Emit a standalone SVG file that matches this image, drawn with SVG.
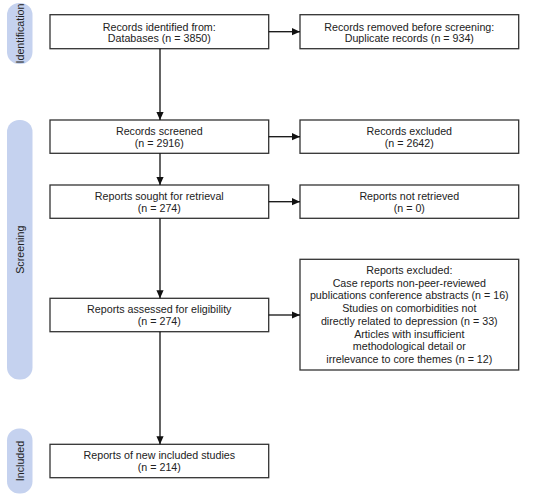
<svg xmlns="http://www.w3.org/2000/svg" width="550" height="499" viewBox="0 0 550 499">
<defs>
<style>
.box{fill:#fff;stroke:#333;stroke-width:1.3}
.pill{fill:#c5d2ef}
text{font-family:"Liberation Sans",Arial,sans-serif;font-size:10.7px;fill:#222;text-anchor:middle}
.conn line{stroke:#111;stroke-width:1.3;fill:none}
</style>
<marker id="ah" viewBox="0 0 10 10" refX="10" refY="5" markerWidth="8" markerHeight="8" markerUnits="userSpaceOnUse" orient="auto">
<path d="M0,0.5 L10,5 L0,9.5 z" fill="#111"/>
</marker>
</defs>
<rect width="550" height="499" fill="#fff"/>
<g id="phase-identification">
<rect class="pill" x="7" y="3" width="25.5" height="61" rx="12"/>
<text transform="translate(23.5,33.5) rotate(-90)">Identification</text>
</g>
<g id="phase-screening">
<rect class="pill" x="7" y="120" width="25.5" height="259.5" rx="12"/>
<text transform="translate(23.5,249.7) rotate(-90)">Screening</text>
</g>
<g id="phase-included">
<rect class="pill" x="7" y="428.5" width="25.5" height="65" rx="12"/>
<text transform="translate(23.5,461) rotate(-90)">Included</text>
</g>
<g id="n-identified">
<rect class="box" x="50" y="14.7" width="218.7" height="34"/>
<text x="159.3" y="30.5">Records identified from:</text>
<text x="159.3" y="42.2">Databases (n = 3850)</text>
</g>
<g id="n-removed">
<rect class="box" x="300" y="14.7" width="218.7" height="34"/>
<text x="409.3" y="30.5">Records removed before screening:</text>
<text x="409.3" y="42.2">Duplicate records (n = 934)</text>
</g>
<g id="n-screened">
<rect class="box" x="50" y="120" width="218.7" height="33.3"/>
<text x="159.3" y="134.7">Records screened</text>
<text x="159.3" y="147">(n = 2916)</text>
</g>
<g id="n-excluded">
<rect class="box" x="300" y="120" width="218.7" height="33.3"/>
<text x="409.3" y="134.7">Records excluded</text>
<text x="409.3" y="147">(n = 2642)</text>
</g>
<g id="n-sought">
<rect class="box" x="50" y="185" width="218.7" height="33.3"/>
<text x="159.3" y="199.7">Reports sought for retrieval</text>
<text x="159.3" y="212">(n = 274)</text>
</g>
<g id="n-notretrieved">
<rect class="box" x="300" y="185" width="218.7" height="33.3"/>
<text x="409.3" y="199.7">Reports not retrieved</text>
<text x="409.3" y="212">(n = 0)</text>
</g>
<g id="n-assessed">
<rect class="box" x="50" y="298.3" width="218.7" height="33.4"/>
<text x="159.3" y="313">Reports assessed for eligibility</text>
<text x="159.3" y="325.3">(n = 274)</text>
</g>
<g id="n-reportsexcluded">
<rect class="box" x="300" y="259.3" width="218.7" height="110.7"/>
<text x="409.3" y="273.8">Reports excluded:</text>
<text x="409.3" y="286.5">Case reports non-peer-reviewed</text>
<text x="409.3" y="299.3">publications conference abstracts (n = 16)</text>
<text x="409.3" y="312">Studies on comorbidities not</text>
<text x="409.3" y="324.8">directly related to depression (n = 33)</text>
<text x="409.3" y="337.6">Articles with insufficient</text>
<text x="409.3" y="350.3">methodological detail or</text>
<text x="409.3" y="363.1">irrelevance to core themes (n = 12)</text>
</g>
<g id="n-included">
<rect class="box" x="50" y="444.3" width="218.7" height="33.4"/>
<text x="159.3" y="459">Reports of new included studies</text>
<text x="159.3" y="471.3">(n = 214)</text>
</g>
<g id="connectors" class="conn">
<line x1="268.7" y1="31.7" x2="300" y2="31.7" marker-end="url(#ah)"/>
<line x1="160" y1="48.7" x2="160" y2="120" marker-end="url(#ah)"/>
<line x1="268.7" y1="136.7" x2="300" y2="136.7" marker-end="url(#ah)"/>
<line x1="160" y1="153.3" x2="160" y2="185" marker-end="url(#ah)"/>
<line x1="268.7" y1="201.7" x2="300" y2="201.7" marker-end="url(#ah)"/>
<line x1="160" y1="218.3" x2="160" y2="298.3" marker-end="url(#ah)"/>
<line x1="268.7" y1="315" x2="300" y2="315" marker-end="url(#ah)"/>
<line x1="160" y1="331.7" x2="160" y2="444.3" marker-end="url(#ah)"/>
</g>
</svg>
